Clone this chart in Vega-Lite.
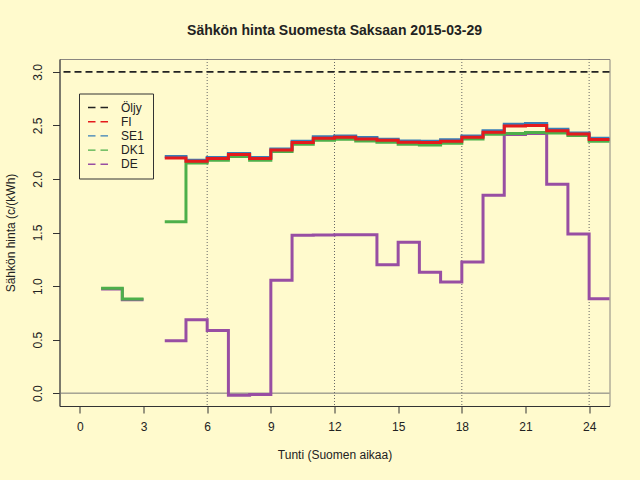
{
  "$schema": "https://vega.github.io/schema/vega-lite/v6.json",
  "width": 550,
  "height": 347,
  "autosize": "none",
  "padding": {"left": 59.5, "top": 59, "right": 30.5, "bottom": 74},
  "background": "#FFFACD",
  "title": {"text": "Sähkön hinta Suomesta Saksaan 2015-03-29", "fontSize": 14, "fontWeight": "bold", "font": "Liberation Sans", "color": "#222", "anchor": "middle", "offset": 21},
  "config": {
    "view": {"stroke": "#8a8680", "strokeWidth": 1},
    "font": "Liberation Sans",
    "axis": {"grid": false, "domainColor": "#333", "tickColor": "#333", "tickSize": 7, "labelFontSize": 12, "labelColor": "#222", "titleFontSize": 12, "titleColor": "#222", "titleFontWeight": "normal", "labelFont": "Liberation Sans", "titleFont": "Liberation Sans"},
    "legend": {"symbolDash": [7.5, 5]}
  },
  "datasets": {
    "prices": [
      {"series": "DK1", "seg": "a", "hour": 1, "value": 0.98},
      {"series": "DK1", "seg": "a", "hour": 2, "value": 0.88},
      {"series": "DK1", "seg": "a", "hour": 3, "value": 0.88},
      {"series": "DE", "seg": "a", "hour": 1, "value": 0.972},
      {"series": "DE", "seg": "a", "hour": 2, "value": 0.872},
      {"series": "DE", "seg": "a", "hour": 3, "value": 0.872},

      {"series": "FI", "seg": "b", "hour": 4, "value": 2.196},
      {"series": "FI", "seg": "b", "hour": 5, "value": 2.165},
      {"series": "FI", "seg": "b", "hour": 6, "value": 2.19},
      {"series": "FI", "seg": "b", "hour": 7, "value": 2.228},
      {"series": "FI", "seg": "b", "hour": 8, "value": 2.19},
      {"series": "FI", "seg": "b", "hour": 9, "value": 2.27},
      {"series": "FI", "seg": "b", "hour": 10, "value": 2.34},
      {"series": "FI", "seg": "b", "hour": 11, "value": 2.38},
      {"series": "FI", "seg": "b", "hour": 12, "value": 2.39},
      {"series": "FI", "seg": "b", "hour": 13, "value": 2.374},
      {"series": "FI", "seg": "b", "hour": 14, "value": 2.362},
      {"series": "FI", "seg": "b", "hour": 15, "value": 2.343},
      {"series": "FI", "seg": "b", "hour": 16, "value": 2.34},
      {"series": "FI", "seg": "b", "hour": 17, "value": 2.352},
      {"series": "FI", "seg": "b", "hour": 18, "value": 2.39},
      {"series": "FI", "seg": "b", "hour": 19, "value": 2.436},
      {"series": "FI", "seg": "b", "hour": 20, "value": 2.495},
      {"series": "FI", "seg": "b", "hour": 21, "value": 2.499},
      {"series": "FI", "seg": "b", "hour": 22, "value": 2.449},
      {"series": "FI", "seg": "b", "hour": 23, "value": 2.42},
      {"series": "FI", "seg": "b", "hour": 24, "value": 2.368},
      {"series": "FI", "seg": "b", "hour": 25, "value": 2.368},

      {"series": "SE1", "seg": "b", "hour": 4, "value": 2.21},
      {"series": "SE1", "seg": "b", "hour": 5, "value": 2.175},
      {"series": "SE1", "seg": "b", "hour": 6, "value": 2.2},
      {"series": "SE1", "seg": "b", "hour": 7, "value": 2.237},
      {"series": "SE1", "seg": "b", "hour": 8, "value": 2.2},
      {"series": "SE1", "seg": "b", "hour": 9, "value": 2.28},
      {"series": "SE1", "seg": "b", "hour": 10, "value": 2.352},
      {"series": "SE1", "seg": "b", "hour": 11, "value": 2.393},
      {"series": "SE1", "seg": "b", "hour": 12, "value": 2.4},
      {"series": "SE1", "seg": "b", "hour": 13, "value": 2.387},
      {"series": "SE1", "seg": "b", "hour": 14, "value": 2.37},
      {"series": "SE1", "seg": "b", "hour": 15, "value": 2.355},
      {"series": "SE1", "seg": "b", "hour": 16, "value": 2.352},
      {"series": "SE1", "seg": "b", "hour": 17, "value": 2.365},
      {"series": "SE1", "seg": "b", "hour": 18, "value": 2.4},
      {"series": "SE1", "seg": "b", "hour": 19, "value": 2.45},
      {"series": "SE1", "seg": "b", "hour": 20, "value": 2.511},
      {"series": "SE1", "seg": "b", "hour": 21, "value": 2.518},
      {"series": "SE1", "seg": "b", "hour": 22, "value": 2.464},
      {"series": "SE1", "seg": "b", "hour": 23, "value": 2.43},
      {"series": "SE1", "seg": "b", "hour": 24, "value": 2.38},
      {"series": "SE1", "seg": "b", "hour": 25, "value": 2.38},

      {"series": "DK1", "seg": "b", "hour": 4, "value": 1.6},
      {"series": "DK1", "seg": "b", "hour": 5, "value": 2.15},
      {"series": "DK1", "seg": "b", "hour": 6, "value": 2.175},
      {"series": "DK1", "seg": "b", "hour": 7, "value": 2.21},
      {"series": "DK1", "seg": "b", "hour": 8, "value": 2.175},
      {"series": "DK1", "seg": "b", "hour": 9, "value": 2.256},
      {"series": "DK1", "seg": "b", "hour": 10, "value": 2.324},
      {"series": "DK1", "seg": "b", "hour": 11, "value": 2.362},
      {"series": "DK1", "seg": "b", "hour": 12, "value": 2.37},
      {"series": "DK1", "seg": "b", "hour": 13, "value": 2.355},
      {"series": "DK1", "seg": "b", "hour": 14, "value": 2.343},
      {"series": "DK1", "seg": "b", "hour": 15, "value": 2.324},
      {"series": "DK1", "seg": "b", "hour": 16, "value": 2.318},
      {"series": "DK1", "seg": "b", "hour": 17, "value": 2.333},
      {"series": "DK1", "seg": "b", "hour": 18, "value": 2.372},
      {"series": "DK1", "seg": "b", "hour": 19, "value": 2.418},
      {"series": "DK1", "seg": "b", "hour": 20, "value": 2.424},
      {"series": "DK1", "seg": "b", "hour": 21, "value": 2.434},
      {"series": "DK1", "seg": "b", "hour": 22, "value": 2.43},
      {"series": "DK1", "seg": "b", "hour": 23, "value": 2.405},
      {"series": "DK1", "seg": "b", "hour": 24, "value": 2.352},
      {"series": "DK1", "seg": "b", "hour": 25, "value": 2.352},

      {"series": "DE", "seg": "b", "hour": 4, "value": 0.49},
      {"series": "DE", "seg": "b", "hour": 5, "value": 0.686},
      {"series": "DE", "seg": "b", "hour": 6, "value": 0.586},
      {"series": "DE", "seg": "b", "hour": 7, "value": -0.02},
      {"series": "DE", "seg": "b", "hour": 8, "value": -0.012},
      {"series": "DE", "seg": "b", "hour": 9, "value": 1.053},
      {"series": "DE", "seg": "b", "hour": 10, "value": 1.474},
      {"series": "DE", "seg": "b", "hour": 11, "value": 1.477},
      {"series": "DE", "seg": "b", "hour": 12, "value": 1.48},
      {"series": "DE", "seg": "b", "hour": 13, "value": 1.48},
      {"series": "DE", "seg": "b", "hour": 14, "value": 1.2},
      {"series": "DE", "seg": "b", "hour": 15, "value": 1.41},
      {"series": "DE", "seg": "b", "hour": 16, "value": 1.13},
      {"series": "DE", "seg": "b", "hour": 17, "value": 1.037},
      {"series": "DE", "seg": "b", "hour": 18, "value": 1.224},
      {"series": "DE", "seg": "b", "hour": 19, "value": 1.848},
      {"series": "DE", "seg": "b", "hour": 20, "value": 2.415},
      {"series": "DE", "seg": "b", "hour": 21, "value": 2.425},
      {"series": "DE", "seg": "b", "hour": 22, "value": 1.95},
      {"series": "DE", "seg": "b", "hour": 23, "value": 1.485},
      {"series": "DE", "seg": "b", "hour": 24, "value": 0.882},
      {"series": "DE", "seg": "b", "hour": 25, "value": 0.882}
    ]
  },
  "encoding": {
    "x": {"field": "hour", "type": "quantitative", "scale": {"domain": [-0.96, 24.96], "nice": false, "zero": false},
      "axis": {"values": [0, 3, 6, 9, 12, 15, 18, 21, 24], "title": "Tunti (Suomen aikaa)", "labelPadding": 8, "titlePadding": 17, "labelFlush": false}},
    "y": {"field": "value", "type": "quantitative", "scale": {"domain": [-0.12, 3.12], "nice": false, "zero": false},
      "axis": {"values": [0, 0.5, 1, 1.5, 2, 2.5, 3], "format": ".1f", "title": "Sähkön hinta (c/(kWh)", "labelAngle": -90, "labelAlign": "center", "labelBaseline": "bottom", "labelPadding": 8, "titlePadding": 14, "labelFlush": false}},
    "color": {"field": "series", "type": "nominal",
      "scale": {"domain": ["Öljy", "FI", "SE1", "DK1", "DE"], "range": ["#222222", "#E41A1C", "#377EB8", "#4DAF4A", "#984EA3"]},
      "legend": {"title": null, "orient": "none", "legendX": 19.5, "legendY": 34.5, "symbolType": "stroke", "symbolSize": 400, "symbolStrokeWidth": 1.4, "labelFontSize": 12, "labelColor": "#222", "labelOffset": 12, "clipHeight": 12, "rowPadding": 2.2, "padding": 8, "strokeColor": "#333", "symbolOffset": 0}}
  },
  "layer": [
    {
      "data": {"values": [{"hour": 6}, {"hour": 12}, {"hour": 18}, {"hour": 24}]},
      "mark": {"type": "rule", "color": "#666", "strokeDash": [1, 2], "strokeWidth": 1},
      "encoding": {"x": {"field": "hour", "type": "quantitative"}, "y": null, "color": null}
    },
    {
      "data": {"values": [{"value": 0}]},
      "mark": {"type": "rule", "color": "#777", "strokeWidth": 1},
      "encoding": {"x": null, "color": null}
    },
    {
      "data": {"values": [{"series": "Öljy", "value": 3.0}]},
      "mark": {"type": "rule", "strokeDash": [7, 4], "strokeWidth": 1.6},
      "encoding": {"x": null}
    },
    {
      "data": {"name": "prices"},
      "transform": [{"filter": "datum.series === 'DE'"}],
      "mark": {"type": "line", "interpolate": "step-after", "strokeWidth": 3, "clip": true},
      "encoding": {"detail": {"field": "seg"}}
    },
    {
      "data": {"name": "prices"},
      "transform": [{"filter": "datum.series === 'DK1'"}],
      "mark": {"type": "line", "interpolate": "step-after", "strokeWidth": 3, "clip": true},
      "encoding": {"detail": {"field": "seg"}}
    },
    {
      "data": {"name": "prices"},
      "transform": [{"filter": "datum.series === 'SE1'"}],
      "mark": {"type": "line", "interpolate": "step-after", "strokeWidth": 3, "clip": true},
      "encoding": {"detail": {"field": "seg"}}
    },
    {
      "data": {"name": "prices"},
      "transform": [{"filter": "datum.series === 'FI'"}],
      "mark": {"type": "line", "interpolate": "step-after", "strokeWidth": 3, "clip": true},
      "encoding": {"detail": {"field": "seg"}}
    }
  ]
}
